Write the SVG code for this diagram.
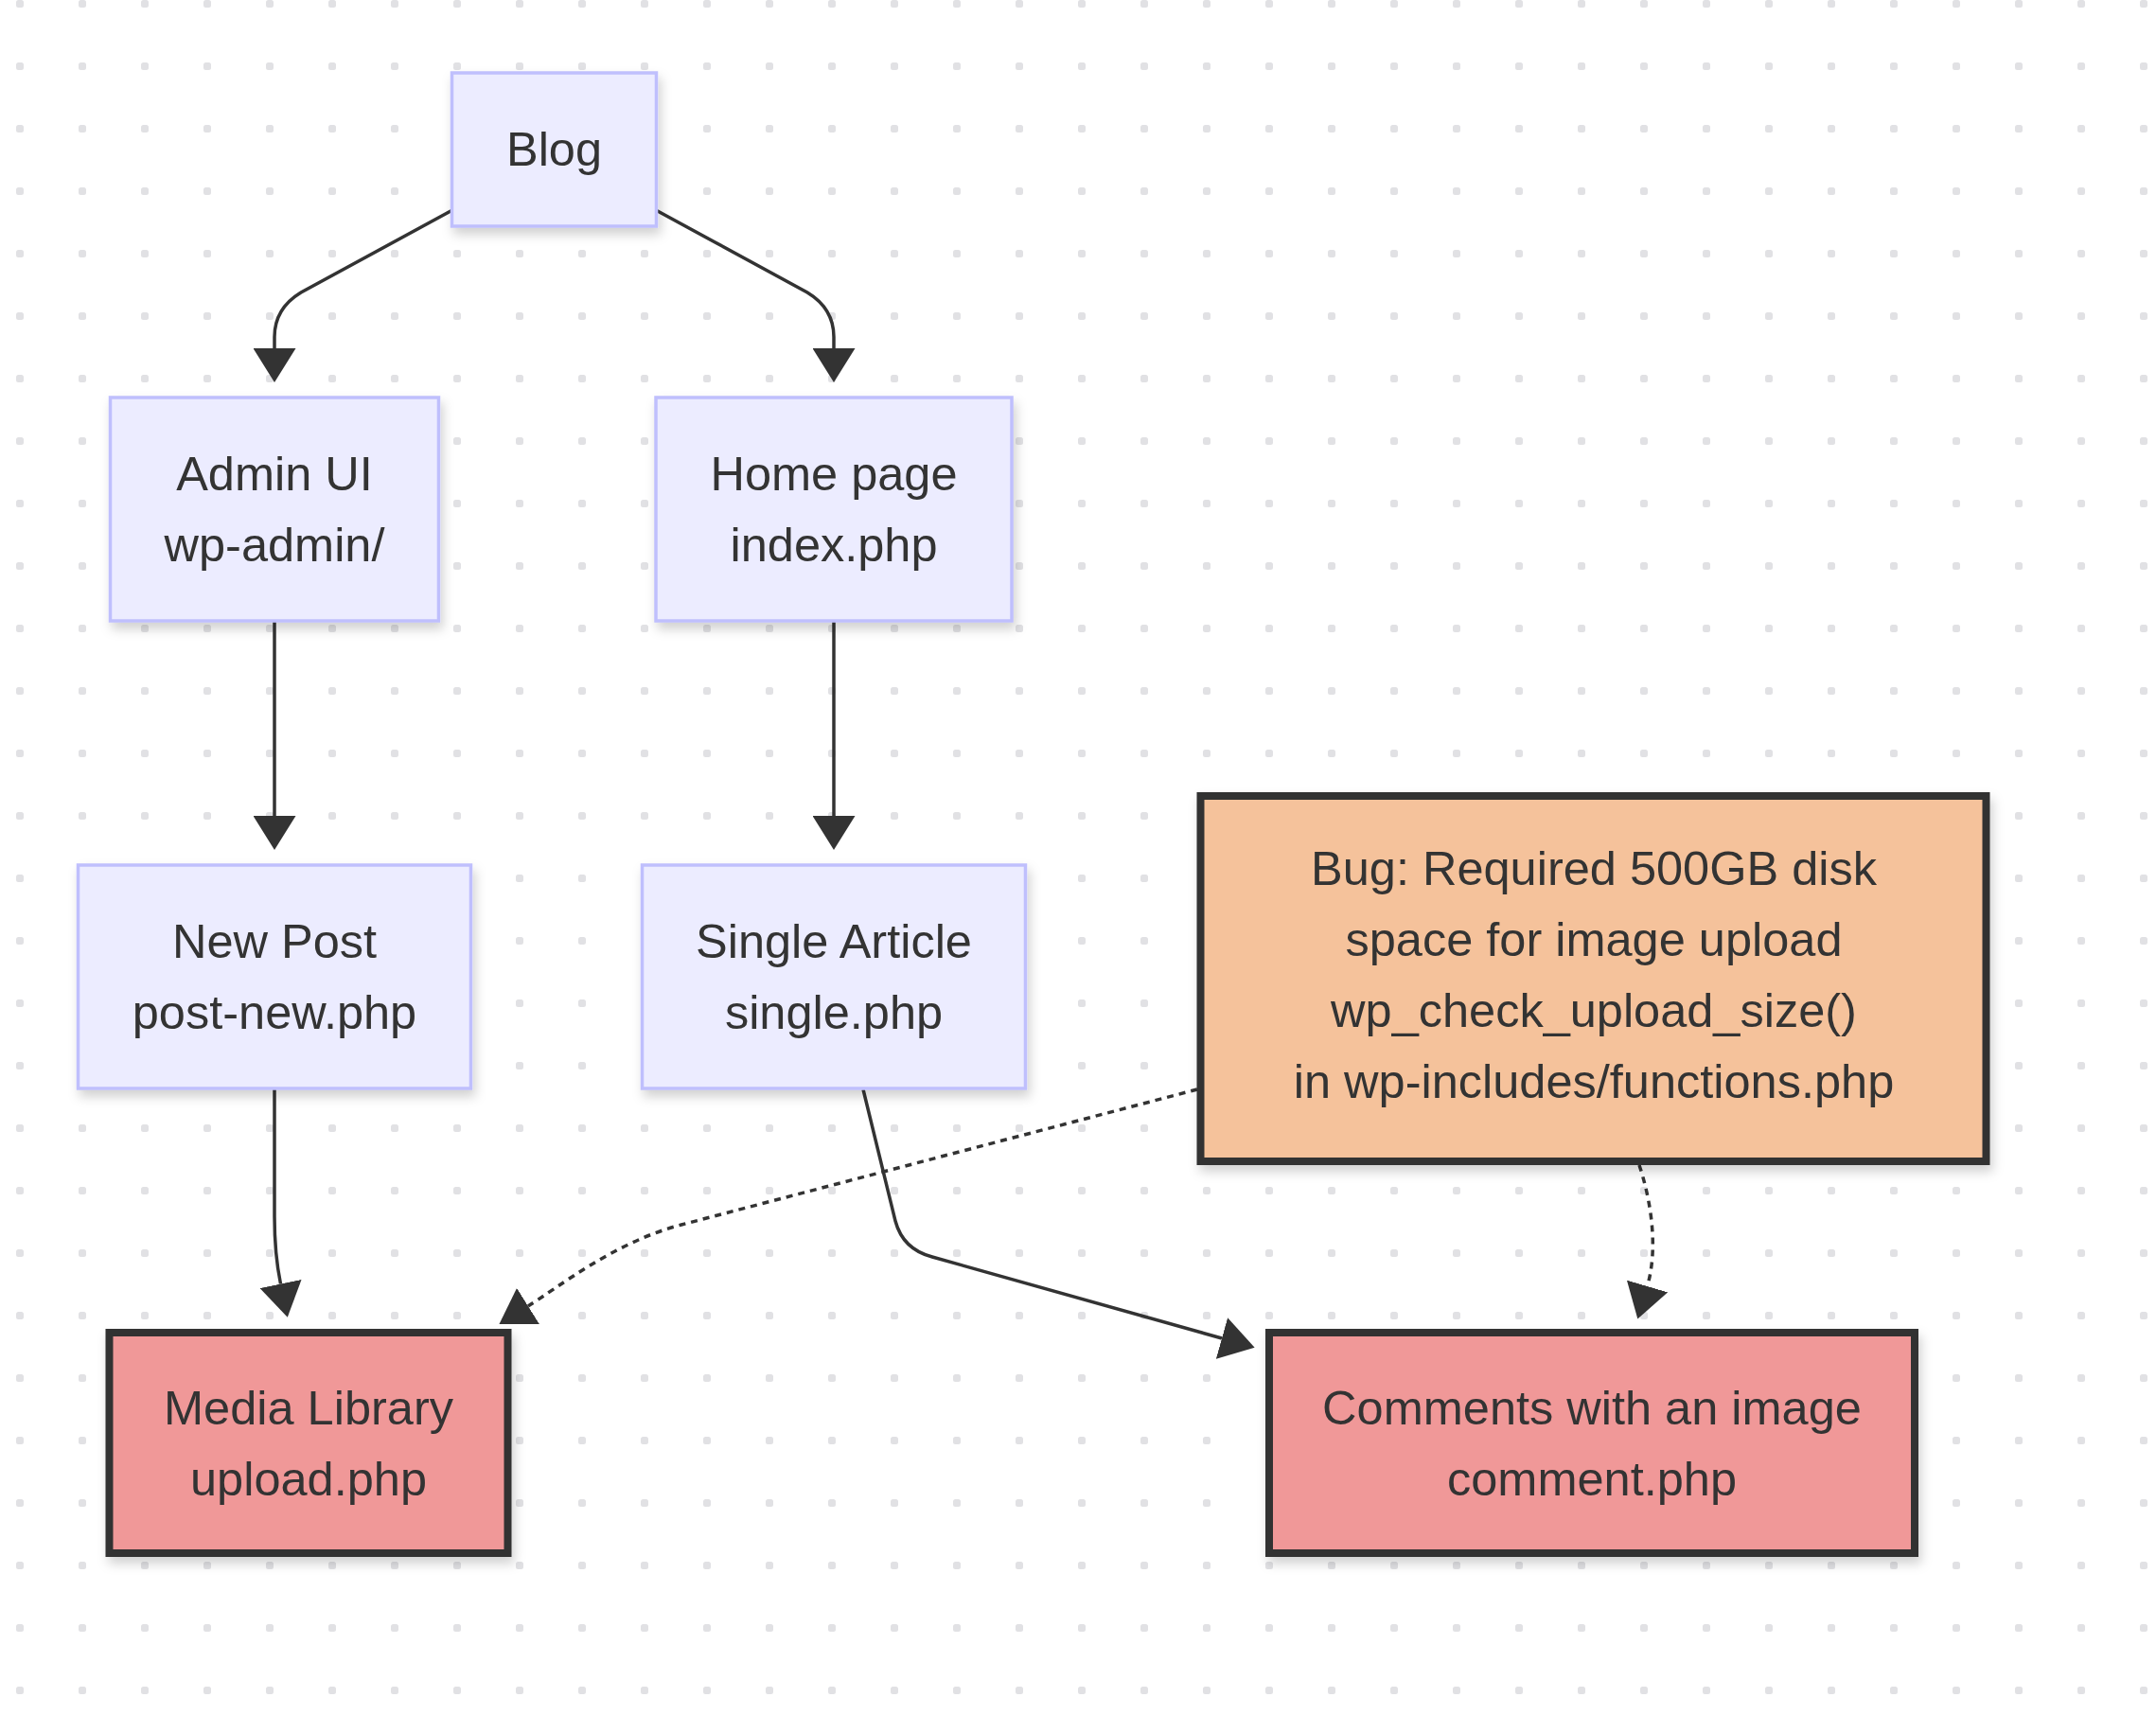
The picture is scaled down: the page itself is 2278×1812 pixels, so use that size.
<svg xmlns="http://www.w3.org/2000/svg" width="2278" height="1812" viewBox="0 0 2278 1812">
  <defs>
    <pattern id="dots" patternUnits="userSpaceOnUse" x="0" y="0" width="66" height="66">
      <rect x="17" y="0" width="8" height="8" rx="2.5" fill="#e1e1e4"/>
    </pattern>
    <filter id="shadow" x="-10%" y="-10%" width="125%" height="130%">
      <feDropShadow dx="3" dy="7" stdDeviation="6" flood-color="#000" flood-opacity="0.18"/>
    </filter>
    <marker id="arrow" viewBox="0 0 10 10" refX="0" refY="5" markerUnits="userSpaceOnUse" markerWidth="36" markerHeight="45" preserveAspectRatio="none" orient="auto">
      <path d="M0,0 L10,5 L0,10 z" fill="#333"/>
    </marker>
    <style>
      .node rect { filter: url(#shadow); }
      .plain rect { fill: #ECECFF; stroke: #BFBFFD; stroke-width: 3.5; }
      .red rect { fill: #F09898; stroke: #333; stroke-width: 8; }
      .bug rect { fill: #F5C29B; stroke: #333; stroke-width: 8; }
      .node text { font-family: "Liberation Sans", Arial, Helvetica, sans-serif; font-size: 50.5px; fill: #333; text-anchor: middle; }
      .edge { fill: none; stroke: #333; stroke-width: 3.5; marker-end: url(#arrow); }
      .dotted { stroke-dasharray: 7 6; }
    </style>
  </defs>

  <rect x="0" y="0" width="2278" height="1812" fill="#ffffff"/>
  <rect x="0" y="0" width="2278" height="1812" fill="url(#dots)"/>

  <g id="connectors">
    <path class="edge" d="M478,222 L318,309 Q290,326 290,356 L290,368"/>
    <path class="edge" d="M693,222 L853,309 Q881,326 881,356 L881,368"/>
    <path class="edge" d="M290,657 L290,862"/>
    <path class="edge" d="M881,657 L881,862"/>
    <path class="edge" d="M290,1150 L290,1285 Q290,1325 296.5,1356.5"/>
    <path class="edge" d="M912,1151 L946,1290 Q954,1320 985,1328 L1291,1414"/>
    <path class="edge dotted" d="M1265,1151 L720,1294 C650,1312 590,1360 558,1380"/>
    <path class="edge dotted" d="M1732,1231 C1745,1270 1752,1320 1740.5,1359"/>
  </g>

  <g id="blog" class="node plain">
    <rect x="477.5" y="77" width="216" height="162"/>
    <text x="585.5" y="175">Blog</text>
  </g>
  <g id="admin" class="node plain">
    <rect x="116.5" y="420" width="347" height="236"/>
    <text x="290" y="517.5">Admin UI</text>
    <text x="290" y="592.5">wp-admin/</text>
  </g>
  <g id="home" class="node plain">
    <rect x="693" y="420" width="376" height="236"/>
    <text x="881" y="517.5">Home page</text>
    <text x="881" y="592.5">index.php</text>
  </g>
  <g id="newpost" class="node plain">
    <rect x="82.5" y="914" width="415" height="236"/>
    <text x="290" y="1011.5">New Post</text>
    <text x="290" y="1086.5">post-new.php</text>
  </g>
  <g id="single" class="node plain">
    <rect x="678.5" y="914" width="405" height="236"/>
    <text x="881" y="1011.5">Single Article</text>
    <text x="881" y="1086.5">single.php</text>
  </g>
  <g id="bug" class="node bug">
    <rect x="1268.5" y="841" width="830" height="386"/>
    <text x="1684" y="935">Bug: Required 500GB disk</text>
    <text x="1684" y="1010">space for image upload</text>
    <text x="1684" y="1085">wp_check_upload_size()</text>
    <text x="1684" y="1160">in wp-includes/functions.php</text>
  </g>
  <g id="media" class="node red">
    <rect x="115.5" y="1408" width="421" height="233"/>
    <text x="326" y="1504.5">Media Library</text>
    <text x="326" y="1579.5">upload.php</text>
  </g>
  <g id="comments" class="node red">
    <rect x="1341" y="1408" width="682" height="233"/>
    <text x="1682" y="1504.5">Comments with an image</text>
    <text x="1682" y="1579.5">comment.php</text>
  </g>
</svg>
